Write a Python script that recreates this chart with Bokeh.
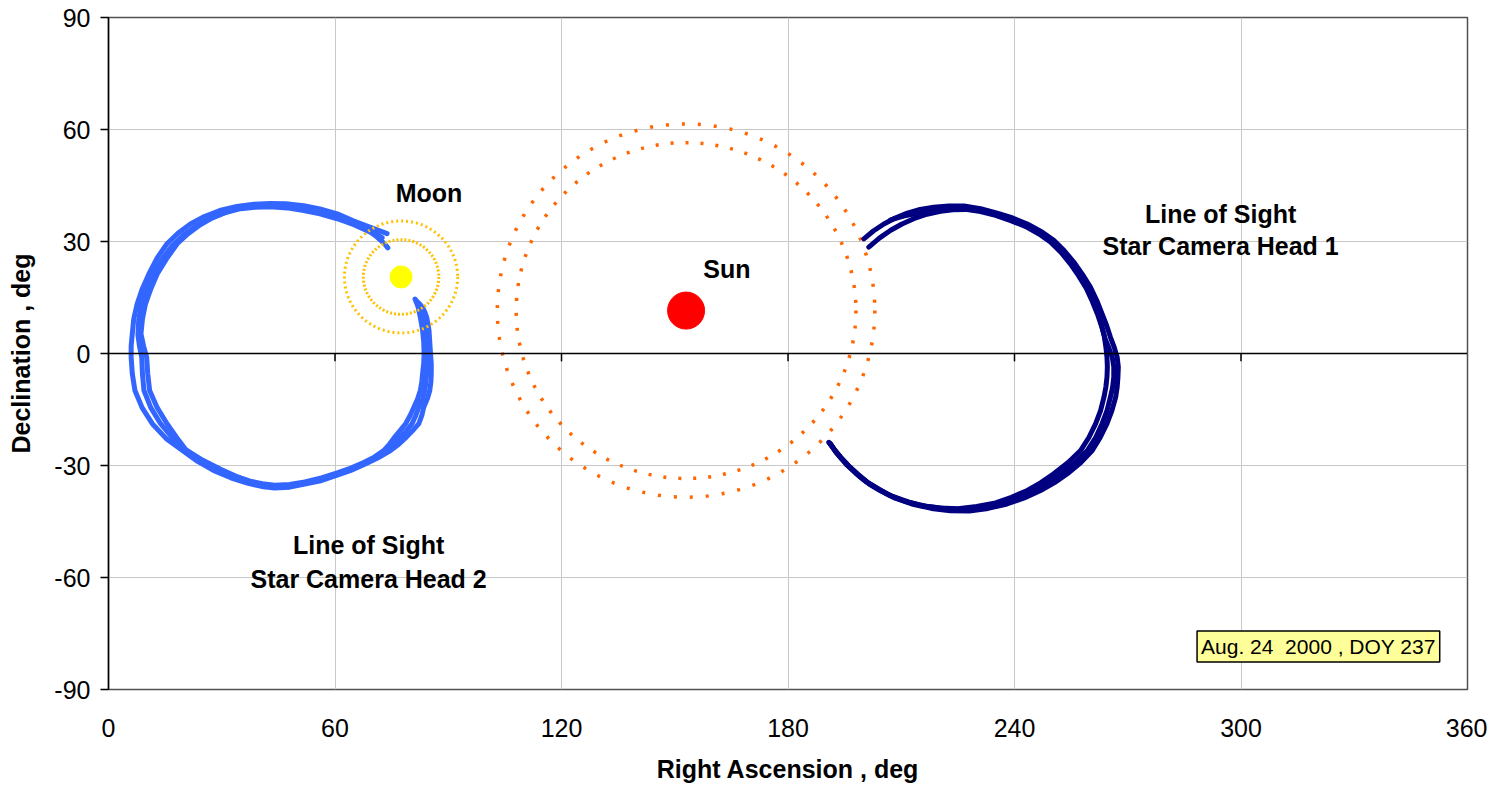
from bokeh.plotting import figure
from bokeh.models import Span, Label
from bokeh.embed import file_html
from bokeh.resources import INLINE
from bokeh.core.properties import value

FONT = "Liberation Sans"

x_ticks = [0, 60, 120, 180, 240, 300, 360]
y_ticks = [-90, -60, -30, 0, 30, 60, 90]

# Sun and Moon positions (deg) and exclusion circle radii (deg)
sun_ra, sun_dec = 153.0, 11.5
sun_radii = [45, 50]
moon_ra, moon_dec = 77.5, 20.5
moon_radii = [10, 15]

# Star camera head 2 line of sight, three passes (RA, Dec)
h2a = [(73.8, 32.1), (69.4, 33.8), (65.0, 35.5), (60.6, 37.4), (56.0, 38.7), (51.7, 39.6), (47.0, 40.1),
       (42.9, 40.2), (38.5, 40.0), (34.0, 39.4), (29.5, 38.3), (25.4, 36.7), (21.7, 34.7), (18.4, 32.2),
       (15.5, 29.4), (12.9, 25.6), (10.7, 21.3), (8.9, 17.2), (7.6, 13.3), (6.7, 9.3), (6.3, 5.3),
       (6.0, 2.0), (6.0, -1.0), (6.3, -5.4), (7.0, -9.9), (8.9, -14.5), (11.6, -18.8), (15.3, -22.8),
       (19.6, -26.0), (23.6, -28.9), (27.8, -31.3), (32.4, -33.3), (37.0, -34.8), (40.5, -35.6),
       (44.0, -36.0), (48.0, -35.8), (52.0, -35.0), (56.5, -34.0), (60.6, -32.6), (64.2, -31.3),
       (67.6, -29.8), (71.3, -28.0), (74.7, -26.0), (76.9, -24.3), (78.9, -22.4), (80.8, -20.4),
       (82.2, -18.8), (83.0, -16.6), (83.5, -14.4), (84.5, -12.0), (85.1, -9.9), (85.4, -7.6),
       (85.5, -5.4), (85.5, -2.7), (85.3, 0.0), (85.1, 3.1), (84.9, 6.2), (84.6, 8.0), (84.3, 9.7),
       (83.8, 11.1), (83.2, 12.3), (82.5, 13.2), (81.8, 13.8)]
h2b = [(74.0, 28.3), (73.2, 29.3), (72.1, 30.3), (70.8, 31.5), (69.4, 32.5), (65.0, 34.5), (60.6, 36.1),
       (56.0, 37.4), (51.7, 38.3), (47.3, 39.0), (42.9, 39.3), (38.8, 39.2), (35.0, 38.8), (30.5, 37.6),
       (26.6, 36.0), (23.0, 34.0), (19.7, 31.6), (16.8, 28.8), (14.0, 25.0), (11.8, 21.0), (10.0, 17.0),
       (8.7, 13.0), (8.0, 9.0), (7.8, 5.0), (8.2, 2.0), (8.8, -1.0), (9.0, -5.5), (9.4, -9.9),
       (11.2, -14.5), (13.8, -18.8), (16.8, -22.4), (20.2, -25.6), (24.3, -28.4), (28.6, -30.8),
       (33.0, -32.7), (37.5, -34.2), (40.8, -34.9), (44.0, -35.3), (48.0, -35.1), (52.0, -34.4),
       (56.4, -33.3), (60.6, -32.0), (64.2, -30.7), (67.6, -29.2), (70.5, -27.7), (72.9, -26.0),
       (74.5, -24.2), (75.8, -22.4), (77.3, -20.6), (78.7, -18.8), (79.9, -16.6), (80.9, -14.4),
       (81.9, -12.1), (82.6, -9.9), (83.0, -7.6), (83.2, -5.4), (83.5, -2.7), (83.6, 0.0), (83.5, 3.1),
       (83.2, 6.2), (82.9, 8.0), (82.6, 9.7), (82.3, 11.1), (82.0, 12.5), (81.6, 13.6), (81.2, 14.6)]
h2c = [(72.5, 31.0), (70.8, 32.0), (69.0, 33.0), (64.8, 35.0), (60.6, 36.8), (56.0, 38.1), (51.7, 39.0),
       (47.3, 39.5), (42.9, 39.7), (38.9, 39.6), (35.0, 39.2), (31.5, 38.0), (27.6, 36.4), (24.2, 34.4),
       (21.0, 32.0), (18.2, 29.4), (15.4, 25.4), (12.9, 21.3), (11.2, 17.3), (9.8, 13.3), (9.0, 9.3),
       (8.6, 5.3), (9.3, 2.0), (10.1, -1.0), (10.4, -5.5), (10.9, -9.9), (12.9, -14.5), (15.5, -18.8),
       (18.0, -22.4), (20.5, -25.8), (25.0, -28.6), (29.7, -31.0), (33.8, -32.9), (38.0, -34.5),
       (41.0, -35.2), (44.0, -35.6), (48.0, -35.4), (52.0, -34.7), (56.4, -33.6), (60.6, -32.3),
       (64.2, -31.0), (67.6, -29.5), (70.8, -27.8), (73.8, -26.0), (75.7, -24.2), (77.3, -22.4),
       (79.0, -20.6), (80.4, -18.8), (81.4, -16.6), (82.2, -14.4), (83.2, -12.1), (83.8, -9.9),
       (84.1, -7.6), (84.3, -5.4), (84.4, -2.7), (84.4, 0.0), (84.2, 3.1), (84.0, 6.2), (83.7, 8.0),
       (83.4, 9.7), (83.0, 11.1), (82.6, 12.5), (82.0, 13.5), (81.5, 14.2)]

# Star camera head 1 line of sight, three passes (RA, Dec)
h1a = [(200.1, 30.7), (202.6, 32.8), (205.4, 34.7), (208.4, 36.3), (211.6, 37.6), (215.0, 38.6),
       (218.6, 39.2), (222.6, 39.5), (226.6, 39.5), (231.0, 38.8), (235.4, 37.6), (239.5, 36.3),
       (243.4, 34.7), (247.0, 32.7), (250.4, 30.3), (253.2, 27.5), (255.7, 24.5), (258.0, 21.2),
       (260.1, 17.8), (261.8, 14.2), (263.2, 10.6), (264.4, 7.5), (265.4, 4.4), (266.4, 1.7),
       (267.2, -1.0), (267.5, -3.6), (267.4, -6.3), (267.2, -9.0), (266.8, -11.7), (265.8, -15.3),
       (264.5, -18.8), (262.7, -22.5), (260.6, -26.0), (257.5, -29.3), (254.0, -32.2), (250.6, -34.6),
       (246.9, -36.7), (242.6, -38.7), (238.0, -40.3), (233.0, -41.5), (228.0, -42.2), (223.0, -42.1),
       (218.0, -41.5), (212.8, -40.3), (208.0, -38.6), (204.5, -36.8), (201.5, -35.0), (198.8, -32.8),
       (196.4, -30.5), (194.2, -28.2), (192.5, -26.2), (191.3, -24.2)]
h1b = [(201.4, 28.5), (204.2, 30.9), (207.2, 33.0), (210.2, 34.7), (213.3, 36.1), (216.8, 37.3),
       (220.4, 38.1), (223.7, 38.5), (227.0, 38.6), (231.0, 38.0), (235.0, 37.0), (239.0, 35.6),
       (243.0, 34.0), (246.5, 32.0), (249.6, 29.8), (252.4, 27.0), (254.8, 24.0), (257.0, 20.8),
       (259.0, 17.5), (260.6, 14.0), (262.0, 10.5), (263.1, 7.2), (264.0, 4.0), (265.0, 1.5),
       (265.9, -1.0), (266.3, -3.6), (266.3, -6.3), (266.0, -9.0), (265.4, -11.7), (264.5, -15.3),
       (263.2, -18.8), (261.5, -22.5), (259.3, -26.0), (256.0, -29.2), (252.4, -32.2), (248.8, -34.7),
       (245.0, -36.9), (240.8, -38.8), (236.5, -40.5), (231.8, -41.4), (227.0, -41.8), (222.0, -41.6),
       (217.0, -41.0), (212.0, -39.8), (207.5, -38.2), (204.2, -36.4), (201.2, -34.6), (198.5, -32.3),
       (196.0, -30.0), (193.9, -27.7), (192.2, -25.6), (191.0, -24.0)]
h1c = [(207.2, 35.8), (210.6, 36.8), (214.0, 37.5), (217.0, 38.3), (220.0, 38.8), (223.3, 39.0),
       (226.6, 39.0), (231.0, 38.3), (235.0, 37.3), (239.0, 35.9), (243.0, 34.3), (246.6, 32.3),
       (250.0, 30.0), (252.8, 27.2), (255.2, 24.2), (257.4, 20.9), (259.4, 17.6), (261.0, 14.0),
       (262.3, 10.5), (263.1, 7.5), (263.8, 4.5), (264.2, 1.8), (264.5, -1.0), (264.6, -3.6),
       (264.5, -6.3), (264.2, -9.0), (263.7, -11.7), (262.8, -15.3), (261.5, -18.8), (259.7, -22.5),
       (257.5, -26.0), (254.2, -29.2), (250.4, -32.2), (247.0, -34.6), (243.4, -36.7), (239.2, -38.5),
       (235.0, -40.0), (230.0, -41.0), (225.0, -41.6), (220.2, -41.4), (215.5, -40.8), (210.8, -39.5),
       (206.5, -37.8), (203.4, -36.0), (200.5, -34.2), (197.9, -32.0), (195.5, -29.8), (193.6, -27.5),
       (192.0, -25.4), (190.8, -23.8)]

# Annotations
label_text = ["Moon", "Sun", "Line of Sight", "Star Camera Head 1", "Line of Sight", "Star Camera Head 2"]
label_ra = [84.9, 163.8, 294.6, 294.6, 68.9, 68.9]
label_dec = [42.9, 22.6, 37.5, 28.9, -51.4, -60.3]
date_text = "Aug. 24 \u00a02000 , DOY 237"

p = figure(frame_width=1359, frame_height=672, x_range=(0, 360), y_range=(-90, 90),
           output_backend="svg", toolbar_location=None,
           min_border_left=108, min_border_right=20, min_border_top=17, min_border_bottom=97)
p.background_fill_color = "white"
p.outline_line_color = "#505050"
p.outline_line_width = 1.5

# axes
p.xaxis.ticker = x_ticks
p.yaxis.ticker = y_ticks
p.xaxis.major_label_overrides = {t: str(t) for t in x_ticks}
p.yaxis.major_label_overrides = {t: str(t) for t in y_ticks}
for ax in (p.xaxis, p.yaxis):
    ax.major_label_text_font = FONT
    ax.major_label_text_font_size = "25px"
    ax.major_label_text_color = "black"
    ax.axis_label_text_font = FONT
    ax.axis_label_text_font_size = "25px"
    ax.axis_label_text_font_style = "bold"
    ax.axis_label_text_color = "black"
    ax.minor_tick_line_color = None
p.xaxis.axis_label = "Right Ascension , deg"
p.xaxis.axis_line_color = None
p.xaxis.major_tick_line_color = None
p.xaxis.major_tick_out = 0
p.xaxis.major_tick_in = 0
p.xaxis.major_label_standoff = 29
p.xaxis.axis_label_standoff = 15
p.yaxis.axis_label = "Declination , deg"
p.yaxis.axis_line_color = "black"
p.yaxis.axis_line_width = 1.5
p.yaxis.major_tick_line_color = "black"
p.yaxis.major_tick_line_width = 1.5
p.yaxis.major_tick_out = 8
p.yaxis.major_tick_in = 0
p.yaxis.major_label_standoff = 10
p.yaxis.axis_label_standoff = 16

p.xgrid.grid_line_color = "#C8C8C8"
p.ygrid.grid_line_color = "#C8C8C8"
p.xgrid.grid_line_width = 1
p.ygrid.grid_line_width = 1

# zero line acting as the RA axis
p.add_layout(Span(location=0, dimension="width", line_color="black", line_width=1.5))
inner_ticks = x_ticks[1:-1]
p.segment(x0=inner_ticks, y0=[0] * len(inner_ticks), x1=inner_ticks, y1=[-2.1] * len(inner_ticks),
          line_color="black", line_width=1.5)

# Sun exclusion circles (dotted)
p.ellipse(x=sun_ra, y=sun_dec, width=2 * sun_radii[0], height=2 * sun_radii[0],
          fill_color=None, line_color="#FF6600", line_width=3.5, line_dash="3 12", line_cap="butt")
p.ellipse(x=sun_ra, y=sun_dec, width=2 * sun_radii[1], height=2 * sun_radii[1],
          fill_color=None, line_color="#FF6600", line_width=3.5, line_dash="3 13", line_cap="butt")

# Lines of sight
for path in (h2a, h2b, h2c):
    p.line([pt[0] for pt in path], [pt[1] for pt in path], line_color="#3366FF", line_width=5,
           line_join="round", line_cap="round")
for path in (h1a, h1b, h1c):
    p.line([pt[0] for pt in path], [pt[1] for pt in path], line_color="#000080", line_width=5,
           line_join="round", line_cap="round")

# Moon exclusion circles (dotted)
p.ellipse(x=moon_ra, y=moon_dec, width=2 * moon_radii[0], height=2 * moon_radii[0],
          fill_color=None, line_color="#FFC000", line_width=3, line_dash="2 2", line_cap="butt")
p.ellipse(x=moon_ra, y=moon_dec, width=2 * moon_radii[1], height=2 * moon_radii[1],
          fill_color=None, line_color="#FFC000", line_width=3, line_dash="2 3", line_cap="butt")

# Sun and Moon
p.scatter([sun_ra], [sun_dec], size=37, fill_color="#FF0000", line_color="#FF0000")
p.scatter([moon_ra], [moon_dec], size=22, fill_color="#FFFF00", line_color="#FFFF00")

p.text(x=label_ra, y=label_dec, text=label_text, text_font=value(FONT), text_font_style="bold",
       text_font_size="25px", text_align="center", text_baseline="middle", text_color="black")

p.add_layout(Label(x=320.5, y=-78.5, text=date_text, text_font=FONT, text_font_size="21px",
                   text_align="center", text_baseline="middle", text_color="black",
                   background_fill_color="#FFFF99", border_line_color="black", border_line_width=1.5,
                   padding=4))

open("out.html", "w").write(file_html(p, INLINE))
